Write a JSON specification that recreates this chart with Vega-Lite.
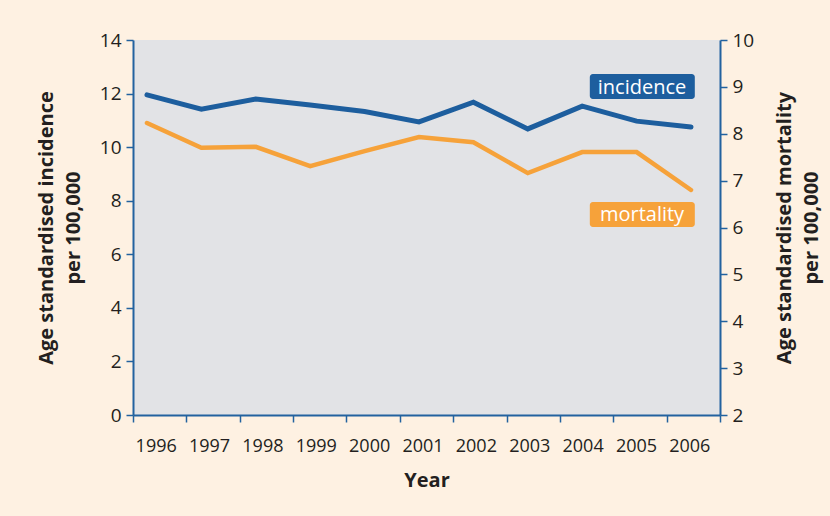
{
  "$schema": "https://vega.github.io/schema/vega-lite/v6.json",
  "width": 587,
  "height": 375,
  "autosize": {"type": "none"},
  "padding": {"left": 133, "top": 40, "right": 110, "bottom": 101},
  "background": "#FEF1E2",
  "config": {
    "view": {"fill": "#E2E3E6", "stroke": null},
    "axis": {
      "domainColor": "#22629F",
      "domainWidth": 2,
      "tickColor": "#22629F",
      "tickWidth": 1.5,
      "tickSize": 7,
      "grid": false,
      "labelColor": "#231F20",
      "labelFont": "Open Sans",
      "labelFontSize": 19,
      "titleColor": "#231F20",
      "titleFont": "Open Sans",
      "titleFontSize": 20,
      "titleLineHeight": 27,
      "titleFontWeight": "bold"
    }
  },
  "datasets": {
    "series": [
      {"year": 1996, "incidence": 11.95, "mortality": 8.23},
      {"year": 1997, "incidence": 11.42, "mortality": 7.70},
      {"year": 1998, "incidence": 11.80, "mortality": 7.72},
      {"year": 1999, "incidence": 11.57, "mortality": 7.31},
      {"year": 2000, "incidence": 11.33, "mortality": 7.63},
      {"year": 2001, "incidence": 10.94, "mortality": 7.93},
      {"year": 2002, "incidence": 11.68, "mortality": 7.82},
      {"year": 2003, "incidence": 10.68, "mortality": 7.16},
      {"year": 2004, "incidence": 11.53, "mortality": 7.61},
      {"year": 2005, "incidence": 10.97, "mortality": 7.61},
      {"year": 2006, "incidence": 10.75, "mortality": 6.80}
    ],
    "keys": [
      {"label": "incidence", "x1": 2004.14, "x2": 2006.07, "y1": 11.80, "y2": 12.73, "xc": 2005.1, "yc": 12.26},
      {"label": "mortality", "x1": 2004.14, "x2": 2006.07, "y1": 7.02, "y2": 7.95, "xc": 2005.1, "yc": 7.49}
    ]
  },
  "layer": [
    {
      "data": {"name": "series"},
      "mark": {"type": "point", "opacity": 0},
      "encoding": {
        "x": {
          "field": "year",
          "type": "ordinal",
          "scale": {"type": "band", "paddingInner": 0, "paddingOuter": 0},
          "axis": {
            "orient": "bottom",
            "title": "Year",
            "labelAngle": 0,
            "labelFontSize": 18,
            "tickBand": "extent",
            "labelOffset": -4,
            "labelPadding": 15,
            "titlePadding": 15
          }
        }
      }
    },
    {
      "data": {"name": "series"},
      "mark": {"type": "line", "color": "#1D5E9E", "strokeWidth": 5, "strokeCap": "round"},
      "encoding": {
        "x": {"field": "year", "type": "quantitative", "scale": {"domain": [1995.743, 2006.533], "nice": false, "zero": false}, "axis": null},
        "y": {
          "field": "incidence",
          "type": "quantitative",
          "scale": {"domain": [0, 14], "nice": false},
          "axis": {
            "orient": "left",
            "values": [0, 2, 4, 6, 8, 10, 12, 14],
            "title": ["Age standardised incidence", "per 100,000"],
            "labelPadding": 5,
            "titlePadding": 16
          }
        }
      }
    },
    {
      "data": {"name": "series"},
      "mark": {"type": "line", "color": "#F6A23A", "strokeWidth": 4.5, "strokeCap": "round"},
      "encoding": {
        "x": {"field": "year", "type": "quantitative", "scale": {"domain": [1995.743, 2006.533], "nice": false, "zero": false}, "axis": null},
        "y": {
          "field": "mortality",
          "type": "quantitative",
          "scale": {"domain": [2, 10], "nice": false, "zero": false},
          "axis": {
            "orient": "right",
            "values": [2, 3, 4, 5, 6, 7, 8, 9, 10],
            "title": ["Age standardised mortality", "per 100,000"],
            "titleAngle": 270,
            "labelPadding": 5,
            "titlePadding": 14
          }
        }
      }
    },
    {
      "data": {"name": "keys"},
      "mark": {"type": "rect", "cornerRadius": 3},
      "encoding": {
        "x": {"field": "x1", "type": "quantitative", "scale": {"domain": [1995.743, 2006.533], "nice": false, "zero": false}, "axis": null},
        "x2": {"field": "x2"},
        "y": {"field": "y1", "type": "quantitative", "scale": {"domain": [0, 14], "nice": false}, "axis": null},
        "y2": {"field": "y2"},
        "color": {"field": "label", "type": "nominal", "scale": {"domain": ["incidence", "mortality"], "range": ["#1D5E9E", "#F6A23A"]}, "legend": null}
      }
    },
    {
      "data": {"name": "keys"},
      "mark": {"type": "text", "color": "white", "font": "Open Sans", "fontSize": 20, "align": "center", "baseline": "middle", "dy": 1},
      "encoding": {
        "x": {"field": "xc", "type": "quantitative", "scale": {"domain": [1995.743, 2006.533], "nice": false, "zero": false}, "axis": null},
        "y": {"field": "yc", "type": "quantitative", "scale": {"domain": [0, 14], "nice": false}, "axis": null},
        "text": {"field": "label"}
      }
    }
  ],
  "resolve": {"scale": {"x": "independent", "y": "independent", "color": "independent"}, "axis": {"x": "independent", "y": "independent"}}
}
